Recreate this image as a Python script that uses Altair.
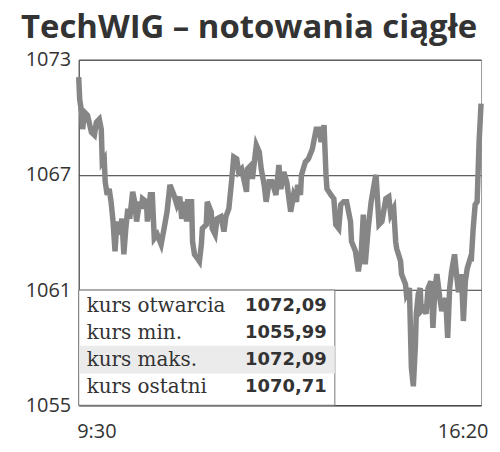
import altair as alt
import pandas as pd

# minutes after 9:30
minutes = [0,1,3,4,6,9,13,16,18,21,23,24,26,27,29,31,33,35,37,39,42,44,46,48,50,52,55,57,59,62,64,65,69,70,73,75,77,80,84,87,90,93,97,100,
           103,105,108,110,111,115,116,118,121,123,125,126,130,131,135,136,139,141,145,148,150,153,156,158,161,163,166,171,172,176,177,181,184,186,189,191,194,197,201,204,206,209,212,216,219,222,223,226,227,231,234,238,242,245,247,250,
           252,253,257,260,262,265,267,270,273,277,278,282,285,288,290,292,295,298,302,303,306,309,313,316,318,321,323,324,328,329,333,334,337,338,339,341,343,344,346,348,349,352,354,356,359,361,363,365,368,370,374,376,378,380,383,385,387,390,392,394,396,399,400,402,404,406,408,410]
kurs = [1072.09,1070.93,1070.26,1069.38,1070.26,1070.10,1069.22,1069.07,1069.74,1069.90,1069.38,1067.67,1067.83,1066.64,1065.96,1066.27,1065.60,1064.57,1063.02,1064.57,1063.90,1064.72,1062.86,1064.21,1065.24,1064.72,1066.12,1065.60,1064.57,1065.60,1065.24,1065.76,1065.60,1064.57,1065.96,1065.96,1063.69,1063.90,1063.38,1064.21,1065.08,1066.48,1065.96,1065.45,
        1065.86,1064.72,1065.60,1064.57,1065.60,1065.60,1063.53,1062.86,1062.65,1062.50,1063.38,1064.21,1064.41,1065.60,1065.08,1064.21,1063.90,1064.72,1064.83,1064.05,1064.83,1065.24,1066.79,1067.93,1067.83,1067.15,1067.31,1066.12,1067.31,1067.52,1066.79,1068.55,1068.19,1067.31,1066.48,1065.60,1066.64,1066.64,1065.96,1067.52,1066.27,1067.15,1066.64,1065.08,1065.96,1065.60,1066.48,1065.96,1067.00,1067.67,1067.83,1068.34,1069.38,1069.38,1068.71,1069.59,
        1067.00,1066.27,1065.96,1065.76,1064.41,1064.21,1065.45,1065.60,1065.60,1064.57,1063.53,1063.02,1061.98,1063.02,1064.93,1062.34,1064.21,1065.60,1066.79,1067.00,1064.41,1064.57,1065.76,1065.86,1064.93,1065.24,1063.53,1063.17,1062.50,1061.83,1061.31,1060.79,1061.10,1059.03,1056.96,1055.99,1058.00,1059.76,1060.79,1061.10,1059.91,1060.07,1059.76,1061.10,1061.46,1059.03,1061.10,1061.83,1060.58,1059.91,1060.58,1058.51,1061.10,1061.98,1062.86,1061.83,1060.89,1061.83,1059.39,1061.46,1062.14,1062.65,1062.50,1064.21,1065.45,1065.60,1068.71,1070.71]

x_ticks = [0, 410]
x_tick_labels = ["9:30", "16:20"]
y_ticks = [1055, 1061, 1067, 1073]

table_labels = ["kurs otwarcia", "kurs min.", "kurs maks.", "kurs ostatni"]
table_values = [1072.09, 1055.99, 1072.09, 1070.71]

df = pd.DataFrame({"t": minutes, "kurs": kurs})

# table layout (in data units of the chart scales)
row_top, row_step = 1060.17, 1.40
tab = pd.DataFrame({
    "label": table_labels,
    "val": [f"{v:.2f}".replace(".", ",") for v in table_values],
    "y": [row_top - i * row_step for i in range(len(table_labels))],
})
box = pd.DataFrame({"x": [0], "x2": [261], "y": [1055], "y2": [1061]})
band = pd.DataFrame({"x": [0.8], "x2": [261], "y": [1056.65], "y2": [1058.10]})

xs = alt.Scale(domain=[0, 410], nice=False, zero=False)
ys = alt.Scale(domain=[1055, 1073], nice=False, zero=False)

label_expr = "datum.value == 0 ? '" + x_tick_labels[0] + "' : '" + x_tick_labels[1] + "'"

line = alt.Chart(df).mark_line(color="#868686", strokeWidth=5.5).encode(
    x=alt.X("t:Q", scale=xs, title=None,
            axis=alt.Axis(values=x_ticks, labelExpr=label_expr, ticks=False, grid=False,
                          domainColor="#444", labelFont="Open Sans", labelFontSize=20,
                          labelColor="#333", labelPadding=16,
                          labelAlign={"condition": {"test": "datum.value == 0", "value": "left"}, "value": "right"},
                          labelOffset={"condition": {"test": "datum.value == 0", "value": -2}, "value": 7})),
    y=alt.Y("kurs:Q", scale=ys, title=None,
            axis=alt.Axis(values=y_ticks, format="d", ticks=False, grid=True, gridColor="#333", gridWidth=1,
                          domainColor="#444", labelFont="Open Sans", labelFontSize=20,
                          labelColor="#333", labelPadding=8, minExtent=71, maxExtent=71)),
)

box_m = alt.Chart(box).mark_rect(fill="white", stroke="#777", strokeWidth=1).encode(
    x=alt.X("x:Q", scale=xs), x2="x2:Q", y=alt.Y("y:Q", scale=ys), y2="y2:Q")
band_m = alt.Chart(band).mark_rect(fill="#ebebeb").encode(
    x=alt.X("x:Q", scale=xs), x2="x2:Q", y=alt.Y("y:Q", scale=ys), y2="y2:Q")

lab_m = alt.Chart(tab).mark_text(align="left", baseline="middle", font="DejaVu Serif",
                                 fontSize=20, color="#333", dx=8).encode(
    x=alt.value(0), y=alt.Y("y:Q", scale=ys), text="label:N")
val_m = alt.Chart(tab).mark_text(align="right", baseline="middle", font="DejaVu Sans",
                                 fontSize=18, fontWeight="bold", color="#333").encode(
    x=alt.value(249), y=alt.Y("y:Q", scale=ys), text="val:N")

chart = alt.layer(line, box_m, band_m, lab_m, val_m).properties(
    width=404, height=347,
    padding={"left": 0, "top": 3, "right": 0, "bottom": 10},
    title=alt.TitleParams("TechWIG – notowania ciągłe", anchor="start", frame="bounds", font="Open Sans",
                          fontSize=33, fontWeight="bold", color="#333", dx=13, offset=5),
).configure_view(stroke="#999", strokeWidth=1)

chart.save("out.html", embed_options={"renderer": "svg", "actions": False})
